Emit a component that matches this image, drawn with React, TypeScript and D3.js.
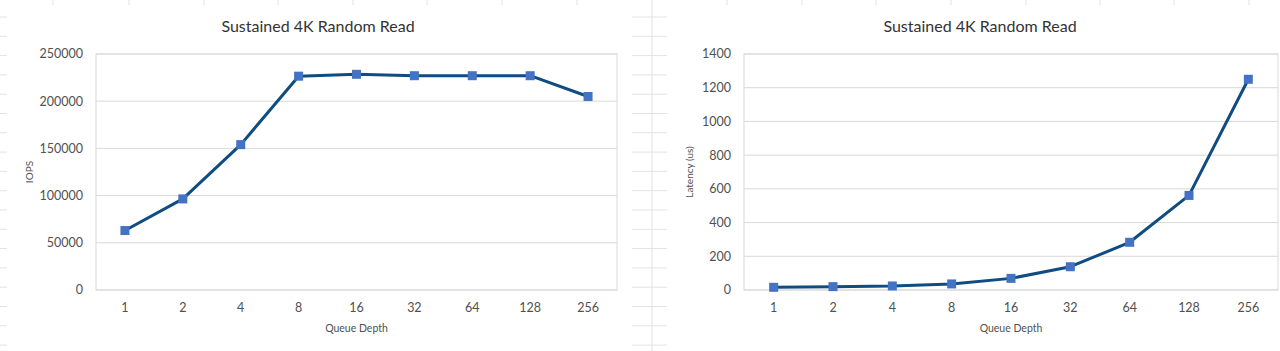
import React from 'react';
import * as d3 from 'd3';

const queueDepths = ['1', '2', '4', '8', '16', '32', '64', '128', '256'];
const iopsValues = [63000, 96500, 154000, 226500, 228500, 227000, 227000, 227000, 205000];
const latencyValues = [16, 20, 24, 36, 69, 138, 283, 561, 1250];
const iopsTicks = [0, 50000, 100000, 150000, 200000, 250000];
const latencyTicks = [0, 200, 400, 600, 800, 1000, 1200, 1400];

const FONT = 'Lato, "Open Sans", sans-serif';
const TEXT = '#505050';
const GRID = '#d9d9d9';
const LINE = '#0f4c81';
const MARKER = '#4472c4';

interface ChartProps {
  title: string;
  yLabel: string;
  values: number[];
  ticks: number[];
  left: number;
  right: number;
  titleX: number;
  yLabelX: number;
}

const LineChart: React.FC<ChartProps> = ({ title, yLabel, values, ticks, left, right, titleX, yLabelX }) => {
  const top = 54;
  const bottom = 290;

  const x = d3.scalePoint<string>().domain(queueDepths).range([left, right]).padding(0.5);
  const y = d3.scaleLinear().domain([0, d3.max(ticks)!]).range([bottom, top]);

  const line = d3.line<number>()
    .x((_, i) => x(queueDepths[i])!)
    .y(d => y(d));

  return (
    <g fontFamily={FONT}>
      <text x={titleX} y={32} textAnchor="middle" fontSize={16} fill="#333">{title}</text>

      {/* gridlines */}
      {ticks.map(t => (
        <line key={t} x1={left} x2={right} y1={y(t)} y2={y(t)} stroke={GRID} strokeWidth={1} />
      ))}
      <rect x={left} y={top} width={right - left} height={bottom - top} fill="none" stroke={GRID} strokeWidth={1} />

      {/* y tick labels */}
      {ticks.map(t => (
        <text key={t} x={left - 13} y={y(t)} dy="0.35em" textAnchor="end" fontSize={12.5} fill={TEXT}>{t}</text>
      ))}

      {/* x tick labels */}
      {queueDepths.map(q => (
        <text key={q} x={x(q)} y={312} textAnchor="middle" fontSize={12.5} fill={TEXT}>{q}</text>
      ))}

      <text x={(left + right) / 2} y={332} textAnchor="middle" fontSize={10.5} fill={TEXT}>Queue Depth</text>
      <text transform={`translate(${yLabelX},${(top + bottom) / 2}) rotate(-90)`} textAnchor="middle" fontSize={10} fill={TEXT}>{yLabel}</text>

      <path d={line(values) || ''} fill="none" stroke={LINE} strokeWidth={3} strokeLinejoin="round" />
      {values.map((v, i) => (
        <rect key={i} x={x(queueDepths[i])! - 4.5} y={y(v) - 4.5} width={9} height={9} fill={MARKER} />
      ))}
    </g>
  );
};

// faint spreadsheet grid behind the chart objects
const sheetRows = d3.range(17, 351, 19.3);
const sheetCols = [53, 129, 204, 278, 353, 427, 502, 577, 727, 802, 876, 951, 1026, 1100, 1174, 1249];

export default function App() {
  return (
    <svg width={1280} height={351} style={{ position: 'absolute', left: 0, top: 0, background: '#fff' }}>
      {sheetRows.map(r => (
        <g key={r}>
          <line x1={0} x2={7} y1={r} y2={r} stroke="#e3e3e3" />
          <line x1={632} x2={667} y1={r} y2={r} stroke="#e3e3e3" />
        </g>
      ))}
      <line x1={652} x2={652} y1={0} y2={351} stroke="#e3e3e3" />
      {sheetCols.map(c => (
        <line key={c} x1={c} x2={c} y1={0} y2={5} stroke="#e3e3e3" />
      ))}

      <LineChart title="Sustained 4K Random Read" yLabel="IOPS" values={iopsValues} ticks={iopsTicks}
        left={96} right={617} titleX={318} yLabelX={33} />
      <LineChart title="Sustained 4K Random Read" yLabel="Latency (us)" values={latencyValues} ticks={latencyTicks}
        left={744} right={1278} titleX={980} yLabelX={693} />
    </svg>
  );
}
